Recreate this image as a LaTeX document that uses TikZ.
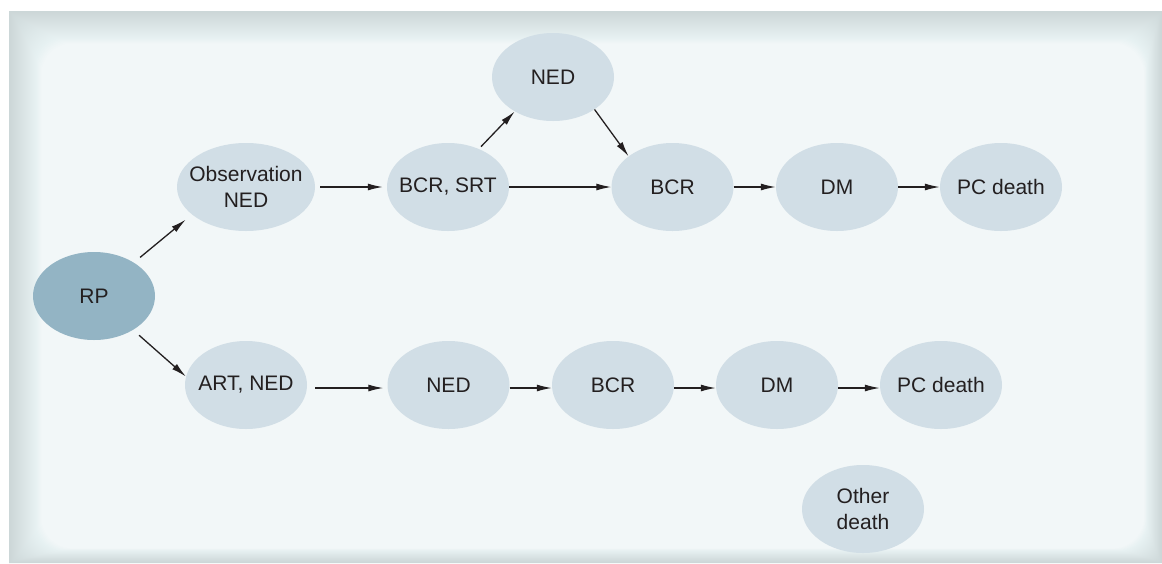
\documentclass[tikz,border=0pt]{standalone}
\usepackage{fontspec}
\setmainfont{Liberation Sans}
\usetikzlibrary{shapes.geometric,arrows.meta}
\definecolor{bgc}{HTML}{F2F7F8}
\definecolor{edgec}{HTML}{B4CECE}
\definecolor{nodec}{HTML}{D1DEE6}
\definecolor{rpc}{HTML}{93B4C4}
\definecolor{txt}{HTML}{231F20}
\begin{document}
\begin{tikzpicture}[x=1pt,y=-1pt,
  ell/.style={ellipse, fill=nodec, draw=none, minimum width=122pt, minimum height=88pt, inner sep=0pt},
  lbl/.style={text=txt, font=\fontsize{21}{26}\selectfont, align=center, inner sep=0pt},
  arr/.style={draw=txt, line width=1.3pt, -{Latex[length=15pt,width=7pt]}}]
\useasboundingbox (0,0) rectangle (1162,563);
\fill[white] (0,0) rectangle (1162,563);
\fill[bgc] (9,11) rectangle (1162,563);
\foreach \i in {1,...,32}{
  \fill[edgec, opacity=0.02, even odd rule]
    (9,11) rectangle (1162,563)
    [rounded corners=\i pt] (9+\i,11+\i) rectangle (1162-0.55*\i,563-0.45*\i);
}
% nodes
\node[ell, fill=rpc, label={[lbl]center:RP}] (rp) at (94,296) {};
\node[ell, minimum width=138pt, label={[lbl]center:Observation\\NED}] (obs) at (246,187) {};
\node[ell, label={[lbl]center:BCR, SRT}] (bcrs) at (448,187) {};
\node[ell, label={[lbl]center:NED}] (nedA) at (553,77) {};
\node[ell, label={[lbl]center:BCR}] (bcrA) at (672.5,187) {};
\node[ell, label={[lbl]center:DM}] (dmA) at (837,187) {};
\node[ell, label={[lbl]center:PC death}] (pcA) at (1001,187) {};
\node[ell, label={[lbl]center:ART, NED}] (art) at (246,385) {};
\node[ell, label={[lbl]center:NED}] (nedB) at (448.5,385) {};
\node[ell, label={[lbl]center:BCR}] (bcrB) at (613,385) {};
\node[ell, label={[lbl]center:DM}] (dmB) at (777,385) {};
\node[ell, label={[lbl]center:PC death}] (pcB) at (941,385) {};
\node[ell, label={[lbl]center:Other\\death}] (oth) at (863,509) {};
% connectors
\draw[arr, shorten <=8pt, shorten >=8pt] (rp.40) -- (obs.207);
\draw[arr, shorten <=8pt] (rp.-41) -- (art.172);
\draw[arr, shorten <=5pt, shorten >=4pt] (obs.east) -- (bcrs.west);
\draw[arr, shorten <=3pt] (bcrs.51) -- (nedA.222);
\draw[arr] (nedA.-38) -- (bcrA.145);
\draw[arr] (bcrs.east) -- (bcrA.west);
\draw[arr] (bcrA.east) -- (dmA.west);
\draw[arr] (dmA.east) -- (pcA.west);
\draw[arr, shorten <=8pt, shorten >=4pt] ([yshift=-3pt]art.east) -- ([yshift=-3pt]nedB.west);
\draw[arr] ([yshift=-3pt]nedB.east) -- ([yshift=-3pt]bcrB.west);
\draw[arr] ([yshift=-3pt]bcrB.east) -- ([yshift=-3pt]dmB.west);
\draw[arr] ([yshift=-3pt]dmB.east) -- ([yshift=-3pt]pcB.west);
\end{tikzpicture}
\end{document}
